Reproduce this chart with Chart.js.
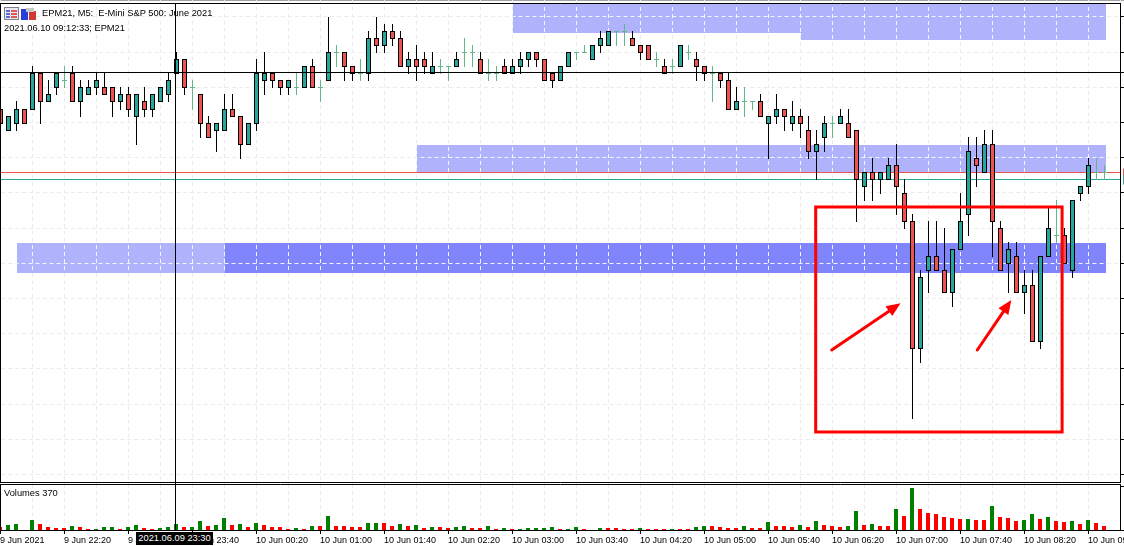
<!DOCTYPE html>
<html><head><meta charset="utf-8">
<style>
html,body{margin:0;padding:0;background:#fff;width:1124px;height:546px;overflow:hidden}
canvas{position:absolute;left:0;display:block}
.t{position:absolute;white-space:pre;font-family:"Liberation Sans",Arial,sans-serif;font-size:9.3px;line-height:13px;color:#000}
</style>
<script src="https://cdn.jsdelivr.net/npm/chart.js@4/dist/chart.umd.min.js"></script>
</head><body>
<div style="position:absolute;left:0;top:0;width:1124px;height:1px;background:#a0a0a0"></div>
<canvas id="price" width="1124" height="484" style="top:0"></canvas>
<canvas id="volume" width="1124" height="62" style="top:484px"></canvas>
<svg style="position:absolute;left:4px;top:7px" width="33" height="14" viewBox="0 0 33 14">
<rect x="0.5" y="0.5" width="14" height="12" fill="#e8e8f4" stroke="#7d7d9a"/>
<rect x="2" y="3" width="4" height="2" fill="#5c6fd0"/><rect x="7" y="3" width="6" height="2" fill="#e05c50"/>
<rect x="2" y="6" width="4" height="2" fill="#5c6fd0"/><rect x="7" y="6" width="6" height="2" fill="#e05c50"/>
<rect x="2" y="9" width="4" height="2" fill="#5c6fd0"/><rect x="7" y="9" width="6" height="2" fill="#e05c50"/>
<rect x="17" y="2" width="7" height="11" fill="#2a3fd6"/><rect x="25" y="4" width="7" height="9" fill="#d03a30"/>
<rect x="22" y="1" width="8" height="4" fill="#c8c8c8"/>
</svg>
<div class="t" style="left:42px;top:7px">EPM21, M5:  E-Mini S&amp;P 500: June 2021</div>
<div class="t" style="left:4px;top:22px">2021.06.10 09:12:33; EPM21</div>
<div class="t" style="left:4px;top:487px">Volumes 370</div>
<div class="t" style="left:136px;top:532px;width:77px;height:13px;background:#000;color:#fff;text-align:center">2021.06.09 23:30</div>
<script>
// Price values are in quarter-point ticks relative to the crosshair level (ES tick = 0.25).
const opens = [-5,-8,-7,-5,-5,0,-4,-2,-1,0,
-4,-3,-2,-2,-2,-4,-3,-6,-4,-5,
-4,-3,0,2,-2,-3,-7,-8,-8,-5,
-6,-10,-7,-1,0,-1,-2,-2,-2,1,
-2,-1,3,3,1,0,0,5,4,6,
5,1,2,2,0,1,1,1,3,3,
2,0,0,1,0,1,2,3,2,0,
-1,1,3,3,2,4,4,6,6,5,
4,4,2,1,1,1,3,2,1,0,
0,-1,-5,-4,-4,-4,-7,-6,-5,-7,
-6,-8,-11,-9,-7,-7,-7,-8,-16,-14,
-15,-15,-13,-17,-21,-39,-28,-26,-28,-31,
-25,-20,-12,-14,-10,-22,-27,-26,-31,-30,
-38,-26,-23,-23,-28,-17,-16,-14,-14];
const closes = [-7,-6,-5,-7,0,-4,-3,0,-1,-4,
-2,-2,-1,-3,-4,-3,-5,-3,-5,-3,
-2,-1,2,-2,-2,-7,-9,-7,-5,-6,
-10,-7,0,0,-1,-2,-1,-2,1,-2,
-2,3,3,1,0,0,5,4,6,5,
1,2,1,1,1,1,1,2,3,3,
0,0,0,0,1,2,3,2,-1,-1,
1,3,3,3,4,5,6,6,6,4,
3,2,2,0,1,4,3,1,0,0,
-1,-5,-4,-4,-4,-6,-6,-5,-6,-6,
-7,-11,-10,-7,-7,-6,-9,-15,-14,-15,
-14,-13,-16,-21,-39,-29,-26,-28,-31,-25,
-21,-11,-13,-10,-21,-28,-25,-31,-30,-38,
-26,-22,-23,-27,-18,-16,-13,-14,-14];
const highs = [-5,-6,-4,-5,1,0,-1,0,1,1,
-1,-1,0,0,-2,-2,-2,-3,-2,-3,
-2,0,3,2,-1,-3,-6,-7,-3,-3,
-6,-7,2,3,0,-1,-1,0,1,2,
-1,8,4,3,1,2,6,8,7,7,
6,3,4,3,3,2,1,3,5,4,
3,2,1,2,2,3,3,3,2,0,
1,3,3,4,4,6,6,6,7,6,
4,4,3,2,2,4,4,3,1,1,
0,0,-2,-2,-4,-3,-6,-3,-5,-4,
-5,-6,-8,-6,-6,-5,-5,-8,-14,-12,
-14,-12,-10,-15,-20,-28,-21,-21,-22,-25,
-17,-9,-9,-8,-8,-21,-24,-24,-28,-28,
-26,-19,-18,-22,-18,-16,-12,-12,-13];
const lows = [-7,-8,-8,-7,-5,-7,-4,-3,-2,-4,
-6,-3,-3,-3,-6,-5,-6,-10,-6,-6,
-4,-4,0,-3,-5,-9,-9,-11,-8,-6,
-12,-10,-8,-3,-2,-3,-3,-3,-2,-2,
-4,-1,1,-1,-1,-1,-1,3,3,4,
1,0,-1,0,0,0,-1,1,1,1,
0,-1,-1,0,0,0,1,1,-1,-2,
-1,1,2,3,2,3,4,4,4,4,
2,2,1,0,0,1,2,-1,-1,-4,
-2,-5,-5,-6,-5,-6,-12,-7,-8,-8,
-9,-12,-15,-11,-9,-7,-9,-21,-18,-18,
-17,-15,-20,-22,-49,-41,-31,-28,-31,-33,
-25,-23,-16,-14,-26,-28,-31,-31,-34,-38,
-39,-26,-24,-27,-29,-18,-17,-15,-15];
const volumes = [26,41,50,0,88,53,26,18,18,35,
26,9,9,26,26,9,26,44,18,9,
18,26,53,26,26,79,35,44,106,44,
53,26,62,44,26,26,9,18,9,35,
35,123,35,35,26,26,62,62,62,35,
53,35,44,18,26,26,18,26,35,18,
18,35,9,18,9,9,18,18,18,26,
9,9,26,9,0,18,18,18,9,9,
18,9,9,9,9,9,9,26,35,35,
26,18,18,35,18,18,70,35,35,26,
44,26,79,44,35,26,35,167,44,53,
35,35,185,123,370,185,150,141,115,106,
97,97,88,88,211,115,106,79,88,141,
97,115,79,70,79,53,88,62,35];
const greenVolumeBars = [1,2,4,9,12,13,14,16,17,20,21,22,24,25,27,28,30,32,37,39,41,46,47,50,52,54,57,58,61,63,65,66,67,68,69,71,72,75,80,84,87,88,93,96,100,102,106,107,109,112,114,121,124,128,129,131,134,136];
const tickLabels = ["9 Jun 2021","9 Jun 22:20","9 Jun 23:00","9 Jun 23:40","10 Jun 00:20","10 Jun 01:00","10 Jun 01:40","10 Jun 02:20","10 Jun 03:00","10 Jun 03:40","10 Jun 04:20","10 Jun 05:00","10 Jun 05:40","10 Jun 06:20","10 Jun 07:00","10 Jun 07:40","10 Jun 08:20","10 Jun 09:00"];
const gridLevels = [8,3,-2,-7,-12,-17,-22,-27,-32,-37,-42,-47,-52,-57];
const barSlots = 141;
const gridEvery = 4, labelEvery = 8;
// chart-object levels, in the same bar / tick units
const zones = [
 {x0:64.06, x1:100.06, top:9.99, bottom:5.72, color:'#b0b3fb'},
 {x0:100.06, x1:138.2, top:9.99, bottom:4.73, color:'#b0b3fb'},
 {x0:52.06, x1:138.2, top:-10.18, bottom:-14.23, color:'#b0b3fb'},
 {x0:2.06, x1:28.06, top:-24.1, bottom:-28.37, color:'#b0b3fb'},
 {x0:28.06, x1:138.2, top:-24.1, bottom:-28.37, color:'#8085fb'}
];
const priceLines = [{level:-14.09,color:'#ef5350'},{level:-15.085,color:'#26a69a'}];
const crossBar = 21.875, crossLevel = 0.12;
const redBox = {x0:101.9, x1:132.7, top:-18.99, bottom:-50.95};
const arrows = [{x0:103.9,y0:-39.3,x1:112.5,y1:-32.67},{x0:122.1,y0:-39.3,x1:126.35,y1:-32.2}];

const TEAL='#26a69a', RED='#ef5350', DOJI='#62b987', GRID='#ececec', DASH=[4,3];
const isDoji = i => opens[i]===closes[i];
const labels = Array.from({length:barSlots},(_,i)=>String(i));

// snap bar edges to whole pixels the way the terminal draws them
const BE = Chart.BarElement;
const baseDraw = BE.prototype.draw;
BE.prototype.draw = function(ctx){
  const y=this.y, b=this.base, extra = ctx.canvas.id==='price'?1:0;
  const t=Math.round(Math.min(y,b)), m=Math.round(Math.max(y,b))+extra;
  this.y=t; this.base=m;
  baseDraw.call(this,ctx);
  this.y=y; this.base=b;
};
Chart.defaults.font.family='"Liberation Sans",Arial,sans-serif';

function snap(v){return Math.floor(v)+0.5}
const pricePlugin = {
  id:'pricePlugin',
  beforeDatasetsDraw(c){
    const g=c.ctx,X=c.scales.x,Y=c.scales.y,A=c.chartArea;
    zones.forEach(z=>{
      const x0=Math.round(X.getPixelForValue(z.x0)),x1=Math.round(X.getPixelForValue(z.x1));
      const y0=Math.round(Y.getPixelForValue(z.top)),y1=Math.round(Y.getPixelForValue(z.bottom));
      g.save();g.fillStyle=z.color;g.fillRect(x0,y0,x1-x0,y1-y0);
      g.beginPath();g.rect(x0,y0,x1-x0,y1-y0);g.clip();
      g.strokeStyle='#f4f4ff';g.lineWidth=1;g.setLineDash(DASH);
      gridLevels.forEach(l=>{const p=snap(Y.getPixelForValue(l));g.beginPath();g.moveTo(A.left,p);g.lineTo(A.right,p);g.stroke();});
      for(let k=0;k<barSlots;k+=gridEvery){const p=snap(X.getPixelForValue(k));g.beginPath();g.moveTo(p,A.top);g.lineTo(p,A.bottom);g.stroke();}
      g.restore();
    });
    priceLines.forEach(l=>{
      const p=snap(Y.getPixelForValue(l.level));
      g.save();g.strokeStyle=l.color;g.lineWidth=1;g.beginPath();g.moveTo(1,p);g.lineTo(1120,p);g.stroke();
      g.fillStyle=l.color;g.fillRect(1123,p-4,1,9);g.restore();
    });
  },
  afterDatasetsDraw(c){
    const g=c.ctx,X=c.scales.x,Y=c.scales.y;
    g.save();
    // red box
    const bx0=X.getPixelForValue(redBox.x0),bx1=X.getPixelForValue(redBox.x1),by0=Y.getPixelForValue(redBox.top),by1=Y.getPixelForValue(redBox.bottom);
    g.strokeStyle='#ff0000';g.lineWidth=3;g.lineJoin='miter';g.strokeRect(bx0,by0,bx1-bx0,by1-by0);
    // arrows
    arrows.forEach(a=>{
      const x0=X.getPixelForValue(a.x0),y0=Y.getPixelForValue(a.y0),x1=X.getPixelForValue(a.x1),y1=Y.getPixelForValue(a.y1);
      const an=Math.atan2(y1-y0,x1-x0),L=14,W=6;
      const bx=x1-L*Math.cos(an),by=y1-L*Math.sin(an);
      g.strokeStyle='#ff0000';g.lineWidth=3;g.lineCap='round';g.beginPath();g.moveTo(x0,y0);g.lineTo(bx,by);g.stroke();
      g.fillStyle='#ff0000';g.beginPath();g.moveTo(x1,y1);
      g.lineTo(bx-W*Math.sin(an),by+W*Math.cos(an));g.lineTo(bx+W*Math.sin(an),by-W*Math.cos(an));g.closePath();g.fill();
    });
    // crosshair
    g.strokeStyle='#000';g.lineWidth=1;g.lineCap='butt';
    const cx=snap(X.getPixelForValue(crossBar)),cy=snap(Y.getPixelForValue(crossLevel));
    g.beginPath();g.moveTo(cx,3);g.lineTo(cx,484);g.moveTo(0,cy);g.lineTo(1124,cy);g.stroke();
    // pane frame and right-hand tick stubs
    g.beginPath();g.moveTo(0,3.5);g.lineTo(1120.5,3.5);g.moveTo(0.5,3);g.lineTo(0.5,483);g.moveTo(1120.5,3);g.lineTo(1120.5,483);g.moveTo(0,482.5);g.lineTo(1121,482.5);g.stroke();
    gridLevels.forEach(l=>{const p=snap(Y.getPixelForValue(l));g.beginPath();g.moveTo(1120,p);g.lineTo(1124,p);g.stroke();});
    g.restore();
  }
};
const volumePlugin = {
  id:'volumePlugin',
  afterDatasetsDraw(c){
    const g=c.ctx,X=c.scales.x,A=c.chartArea;
    g.save();g.strokeStyle='#000';g.lineWidth=1;
    const cx=snap(X.getPixelForValue(crossBar)+0.5);
    g.beginPath();g.moveTo(cx,0);g.lineTo(cx,A.bottom);
    g.moveTo(0,0.5);g.lineTo(1121,0.5);g.moveTo(0.5,0);g.lineTo(0.5,A.bottom);
    g.moveTo(1120.5,0);g.lineTo(1120.5,A.bottom);
    g.moveTo(0,A.bottom+0.5);g.lineTo(1124,A.bottom+0.5);
    g.moveTo(1120,2.5);g.lineTo(1124,2.5);g.stroke();
    g.restore();
  }
};

const bodyBase={type:'bar',grouped:false,inflateAmount:0};
new Chart(document.getElementById('price'),{
  type:'bar',
  data:{labels,datasets:[
    {...bodyBase,label:'Body',order:0,barThickness:5,borderWidth:1,borderColor:'#000',borderSkipped:false,
     data:opens.map((o,i)=>isDoji(i)?null:[o,closes[i]]),
     backgroundColor:opens.map((o,i)=>closes[i]>o?TEAL:RED)},
    {...bodyBase,label:'Doji',order:1,barThickness:5,borderWidth:0,backgroundColor:DOJI,
     data:opens.map((o,i)=>isDoji(i)?[o,o]:null)},
    {...bodyBase,label:'Wick',order:2,barThickness:1,borderWidth:0,
     data:highs.map((h,i)=>[lows[i],h]),
     backgroundColor:opens.map((o,i)=>isDoji(i)?DOJI:'#000')}
  ]},
  options:{
    responsive:false,animation:false,devicePixelRatio:1,
    layout:{padding:{left:0.5,right:3.5,top:0,bottom:0}},
    plugins:{legend:{display:false},tooltip:{enabled:false},title:{display:false}},
    scales:{
      x:{type:'category',offset:false,
         grid:{offset:false,drawTicks:false,color:c=>c.index%gridEvery===0?GRID:'transparent'},
         border:{display:false,dash:DASH},
         ticks:{display:false,autoSkip:false},
         afterFit(s){s.height=0}},
      y:{type:'linear',min:-58.338,max:10.412,
         grid:{drawTicks:false,color:GRID},
         border:{display:false,dash:DASH},
         ticks:{display:false},
         afterBuildTicks(s){s.ticks=gridLevels.map(v=>({value:v}))},
         afterFit(s){s.width=0}}
    }
  },
  plugins:[pricePlugin]
});

new Chart(document.getElementById('volume'),{
  type:'bar',
  data:{labels,datasets:[{...bodyBase,label:'Volumes',barThickness:4,borderWidth:0,
     data:volumes,
     backgroundColor:volumes.map((_,i)=>greenVolumeBars.includes(i)?'#008000':'#ff0000')}]},
  options:{
    responsive:false,animation:false,devicePixelRatio:1,
    layout:{padding:{left:0,right:4,top:0,bottom:0}},
    plugins:{legend:{display:false},tooltip:{enabled:false},title:{display:false}},
    scales:{
      x:{type:'category',offset:false,
         grid:{offset:false,tickLength:4,color:c=>c.index%gridEvery===0?GRID:'transparent',
               tickColor:c=>c.index%labelEvery===0?'#000':'transparent'},
         border:{display:false,dash:DASH},
         ticks:{autoSkip:false,maxRotation:0,minRotation:0,align:'start',padding:1,color:'#000',
                font:{size:9,family:'"Liberation Sans",Arial,sans-serif'},
                callback:(v,i)=>i%labelEvery===0?(tickLabels[i/labelEvery]||''):''},
         afterFit(s){s.height=16;s.paddingLeft=0;s.paddingRight=0}},
      y:{type:'linear',min:0,max:405,display:false}
    }
  },
  plugins:[volumePlugin]
});
</script>
</body></html>
